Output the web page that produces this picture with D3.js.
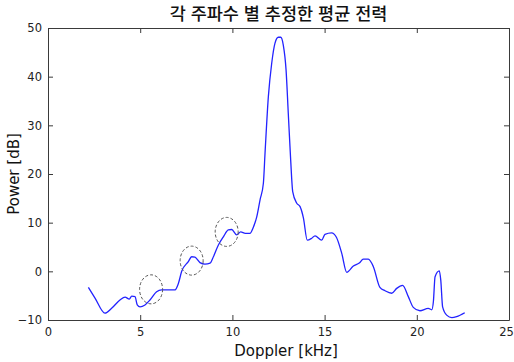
<!DOCTYPE html>
<html lang="ko">
<head>
<meta charset="utf-8">
<title>각 주파수 별 추정한 평균 전력</title>
<script src="https://cdn.jsdelivr.net/npm/d3@7/dist/d3.min.js"></script>
<style>
body { margin: 0; background: #fff; }
svg text { font-family: "DejaVu Sans", "Noto Sans CJK KR", sans-serif; }
</style>
</head>
<body>
<script>
// Doppler frequency [kHz] and estimated mean power [dB]
var doppler = [2.19, 2.55, 3.09, 3.45, 3.9, 4.18, 4.41, 4.54, 4.72, 4.84, 4.99, 5.26, 5.53, 5.89, 6.16, 6.89,
	7.07, 7.25, 7.61, 7.79, 7.97, 8.24, 8.51, 8.79, 8.97, 9.24, 9.51, 9.78, 9.96, 10.23, 10.45, 10.7,
	10.95, 11.13, 11.32, 11.5, 11.68, 11.77, 11.95, 12.13, 12.31, 12.49, 12.62, 12.76, 12.91, 13.03,
	13.16, 13.27, 13.49, 13.67, 13.85, 14.06, 14.3, 14.48, 14.84, 15.02, 15.38, 15.64, 15.93, 16.2,
	16.56, 16.88, 17.1, 17.37, 17.64, 18.0, 18.28, 18.64, 18.91, 19.23, 19.54, 19.81, 20.17, 20.62,
	20.81, 20.9, 20.99, 21.22, 21.3, 21.4, 21.62, 21.9, 22.16, 22.6];
var power = [-3.3, -5.5, -8.6, -7.6, -5.9, -5.3, -5.7, -5.1, -5.2, -6.9, -7.3, -6.9, -5.9, -4.2, -3.8, -3.8,
	-2.5, 0.0, 2.0, 3.0, 2.9, 1.8, 1.5, 1.7, 3.0, 5.4, 7.1, 8.5, 8.6, 7.5, 8.1, 7.8,
	7.8, 9.0, 11.2, 14.7, 18.1, 24.3, 35.9, 42.7, 46.9, 48.1, 48.1, 46.5, 41.4, 32.5,
	22.9, 16.4, 14.0, 13.3, 11.0, 6.4, 6.8, 7.3, 6.4, 7.6, 7.9, 7.0, 3.7, -0.2,
	1.1, 1.7, 2.5, 2.5, 1.0, -3.3, -4.0, -4.5, -3.5, -2.9, -5.2, -7.4, -8.1, -7.6,
	-7.9, -6.2, -1.1, 0.1, -1.8, -7.3, -9.0, -9.5, -9.3, -8.5];

// dashed circles marking the small side peaks
var markX = [5.59, 7.79, 9.69];
var markY = [-3.7, 2.2, 8.1];

var xTicks = [0, 5, 10, 15, 20, 25];
var yTicks = [-10, 0, 10, 20, 30, 40, 50];

var width = 514, height = 362;
var margin = {left: 48, right: 5, top: 28, bottom: 42};

var x = d3.scaleLinear().domain([0, 25]).range([margin.left, width - margin.right]);
var y = d3.scaleLinear().domain([-10, 50]).range([height - margin.bottom, margin.top]);

var svg = d3.select("body").append("svg")
	.attr("width", width)
	.attr("height", height);

var tickLen = 5;

// ticks pointing inward on all four sides, matlab-style box
var xAxis = svg.append("g")
	.attr("transform", "translate(0," + y(-10) + ")")
	.call(d3.axisBottom(x).tickValues(xTicks).tickSizeInner(-tickLen).tickSizeOuter(0).tickPadding(8));
svg.append("g")
	.attr("transform", "translate(0," + y(50) + ")")
	.call(d3.axisTop(x).tickValues(xTicks).tickSizeInner(-tickLen).tickSizeOuter(0).tickFormat(""));
svg.append("g")
	.attr("transform", "translate(" + x(0) + ",0)")
	.call(d3.axisLeft(y).tickValues(yTicks).tickSizeInner(-tickLen).tickSizeOuter(0).tickPadding(6));
svg.append("g")
	.attr("transform", "translate(" + x(25) + ",0)")
	.call(d3.axisRight(y).tickValues(yTicks).tickSizeInner(-tickLen).tickSizeOuter(0).tickFormat(""));

svg.selectAll(".domain, .tick line").attr("stroke", "#3a3a3a");
svg.selectAll(".tick text")
	.attr("fill", "#222")
	.style("font-size", "11.5px");

// last label sits on the window edge, nudge it in
xAxis.selectAll(".tick text")
	.filter(function(d){ return d === 25; })
	.attr("dx", -3);

// the curve
var line = d3.line()
	.x(function(d){ return x(d[0]); })
	.y(function(d){ return y(d[1]); })
	.curve(d3.curveMonotoneX);

svg.append("path")
	.datum(d3.zip(doppler, power))
	.attr("d", line)
	.attr("fill", "none")
	.attr("stroke", "#2323ff")
	.attr("stroke-width", 1.3);

svg.selectAll("ellipse.mark")
	.data(d3.zip(markX, markY))
	.enter()
	.append("ellipse")
	.attr("class", "mark")
	.attr("cx", function(d){ return x(d[0]); })
	.attr("cy", function(d){ return y(d[1]); })
	.attr("rx", 11.5)
	.attr("ry", 14.5)
	.attr("fill", "none")
	.attr("stroke", "#555")
	.attr("stroke-width", 1)
	.attr("stroke-dasharray", "3,2");

svg.append("text")
	.attr("x", (x(0) + x(25)) / 2)
	.attr("y", 20)
	.attr("text-anchor", "middle")
	.style("font-size", "17.5px")
	.style("font-weight", "500")
	.style("font-family", "'Noto Sans CJK KR', sans-serif")
	.attr("fill", "#111")
	.text("각 주파수 별 추정한 평균 전력");

svg.append("text")
	.attr("x", 286)
	.attr("y", 356)
	.attr("text-anchor", "middle")
	.style("font-size", "15px")
	.attr("fill", "#111")
	.text("Doppler [kHz]");

svg.append("text")
	.attr("transform", "translate(19," + y(20) + ") rotate(-90)")
	.attr("text-anchor", "middle")
	.style("font-size", "15px")
	.attr("fill", "#111")
	.text("Power [dB]");
</script>
</body>
</html>
